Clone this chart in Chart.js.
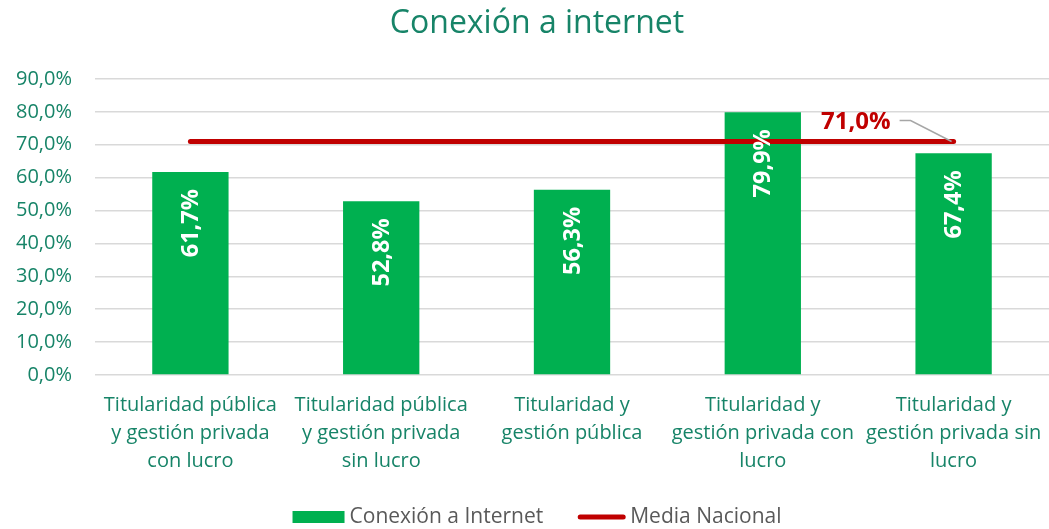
<!DOCTYPE html>
<html>
<head>
<meta charset="utf-8">
<script src="https://cdn.jsdelivr.net/npm/chart.js@4"></script>
<style>
html,body{margin:0;padding:0;background:#fff;}
#wrap{width:1049px;height:529px;position:relative;}
</style>
</head>
<body>
<div id="wrap"><canvas id="c" width="1049" height="529"></canvas></div>
<script>
const chartTitle = "Conexión a internet";
const categories = [
  ["Titularidad pública", "y gestión privada", "con lucro"],
  ["Titularidad pública", "y gestión privada", "sin lucro"],
  ["Titularidad y", "gestión pública"],
  ["Titularidad y", "gestión privada con", "lucro"],
  ["Titularidad y", "gestión privada sin", "lucro"]
];
const seriesName = "Conexión a Internet";
const seriesValues = [61.7, 52.8, 56.3, 79.9, 67.4];
const mediaName = "Media Nacional";
const mediaValues = [71.0, 71.0, 71.0, 71.0, 71.0];
const yTicks = [0, 10, 20, 30, 40, 50, 60, 70, 80, 90];

const TEAL = "#178468";
const FONT = "'Open Sans', sans-serif";
const fmt = v => v.toFixed(1).replace('.', ',') + '%';

const labelPlugin = {
  id: 'labels',
  afterDatasetsDraw(chart) {
    const ctx = chart.ctx;
    const barMeta = chart.getDatasetMeta(0);
    ctx.save();
    ctx.fillStyle = '#ffffff';
    ctx.font = "bold 23.5px " + FONT;
    ctx.textAlign = 'right';
    ctx.textBaseline = 'middle';
    barMeta.data.forEach((el, i) => {
      ctx.save();
      ctx.translate(el.x, el.y + 17);
      ctx.rotate(-Math.PI / 2);
      ctx.fillText(fmt(chart.data.datasets[0].data[i]), 0, 1);
      ctx.restore();
    });
    ctx.restore();
    const lineMeta = chart.getDatasetMeta(1);
    const n = lineMeta.data.length - 1;
    const p = lineMeta.data[n];
    ctx.save();
    ctx.strokeStyle = '#A6A6A6';
    ctx.lineWidth = 1.5;
    ctx.beginPath();
    ctx.moveTo(p.x - 54, p.y - 21);
    ctx.lineTo(p.x - 43, p.y - 21);
    ctx.lineTo(p.x - 2, p.y);
    ctx.stroke();
    ctx.fillStyle = '#C00000';
    ctx.font = "bold 24px " + FONT;
    ctx.textAlign = 'right';
    ctx.textBaseline = 'middle';
    ctx.fillText(fmt(chart.data.datasets[1].data[n]), p.x - 63, p.y - 19);
    ctx.restore();
  },
  afterDraw(chart) {
    const ctx = chart.ctx;
    const ds = chart.data.datasets;
    ctx.save();
    ctx.fillStyle = TEAL;
    ctx.font = "32px " + FONT;
    ctx.textAlign = 'center';
    ctx.textBaseline = 'middle';
    ctx.fillText(chartTitle, 537, 24);
    ctx.textAlign = 'left';
    ctx.font = "21px " + FONT;
    const boxW = 52, gap = 5, itemGap = 35;
    const w0 = boxW + gap + ctx.measureText(ds[0].label).width;
    const w1 = 47 + gap + ctx.measureText(ds[1].label).width;
    const total = w0 + itemGap + w1;
    let x = 537 - total / 2;
    const y = 517;
    ctx.fillStyle = ds[0].backgroundColor;
    ctx.fillRect(x, y - 6, boxW, 12);
    ctx.fillStyle = '#595959';
    ctx.fillText(ds[0].label, x + boxW + gap, y);
    x += w0 + itemGap;
    ctx.strokeStyle = ds[1].borderColor;
    ctx.lineWidth = 5;
    ctx.lineCap = 'round';
    ctx.beginPath();
    ctx.moveTo(x + 2, y);
    ctx.lineTo(x + 45, y);
    ctx.stroke();
    ctx.fillText(ds[1].label, x + 47 + gap, y);
    ctx.restore();
  }
};

new Chart(document.getElementById('c'), {
  data: {
    labels: categories,
    datasets: [
      {
        type: 'bar',
        label: seriesName,
        data: seriesValues,
        backgroundColor: '#00B050',
        categoryPercentage: 1,
        barPercentage: 0.4,
        order: 2
      },
      {
        type: 'line',
        label: mediaName,
        data: mediaValues,
        borderColor: '#C00000',
        backgroundColor: '#C00000',
        borderWidth: 5,
        borderCapStyle: 'round',
        pointRadius: 0,
        fill: false,
        order: 1
      }
    ]
  },
  options: {
    responsive: false,
    animation: false,
    devicePixelRatio: 1,
    layout: { padding: { left: 0, right: -3, top: 79, bottom: 0 } },
    plugins: {
      legend: { display: false },
      tooltip: { enabled: false },
      title: { display: false }
    },
    scales: {
      x: {
        grid: { display: true, drawOnChartArea: false, drawTicks: true, tickLength: 16, color: 'rgba(0,0,0,0)' },
        border: { display: false },
        ticks: {
          color: TEAL,
          font: { family: FONT, size: 20, lineHeight: 1.4 },
          maxRotation: 0,
          autoSkip: false,
          padding: 0
        },
        afterFit(scale) { scale.height = 154; }
      },
      y: {
        min: 0,
        max: 90,
        afterBuildTicks(scale) { scale.ticks = yTicks.map(v => ({ value: v })); },
        grid: { color: '#D9D9D9', lineWidth: 1.5, drawTicks: false },
        border: { display: false },
        ticks: {
          color: TEAL,
          font: { family: FONT, size: 20 },
          padding: 23,
          callback: v => fmt(v)
        },
        afterFit(scale) { scale.width = 95; }
      }
    }
  },
  plugins: [labelPlugin]
});
</script>
</body>
</html>
